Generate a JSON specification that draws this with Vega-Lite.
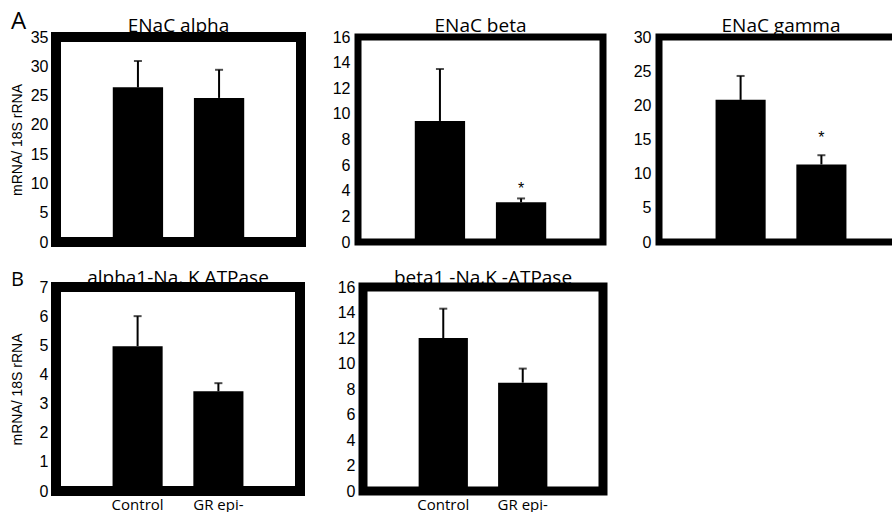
{
  "$schema": "https://vega.github.io/schema/vega-lite/v6.json",
  "background": "white",
  "padding": {"left": 5, "top": 10, "right": 0, "bottom": 0},
  "datasets": {
    "d": [
      {"panel": "A1", "group": "Control", "mean": 26.4, "hi": 30.9, "sig": ""},
      {"panel": "A1", "group": "GR epi-", "mean": 24.6, "hi": 29.4, "sig": ""},
      {"panel": "A2", "group": "Control", "mean": 9.45, "hi": 13.5, "sig": ""},
      {"panel": "A2", "group": "GR epi-", "mean": 3.1, "hi": 3.4, "sig": "*"},
      {"panel": "A3", "group": "Control", "mean": 20.8, "hi": 24.3, "sig": ""},
      {"panel": "A3", "group": "GR epi-", "mean": 11.35, "hi": 12.7, "sig": "*"},
      {"panel": "B1", "group": "Control", "mean": 4.97, "hi": 6.0, "sig": ""},
      {"panel": "B1", "group": "GR epi-", "mean": 3.42, "hi": 3.7, "sig": ""},
      {"panel": "B2", "group": "Control", "mean": 12.0, "hi": 14.3, "sig": ""},
      {"panel": "B2", "group": "GR epi-", "mean": 8.5, "hi": 9.6, "sig": ""}
    ]
  },
  "data": {"name": "d"},
  "vconcat": [
    {
      "title": {"text": "A", "anchor": "start", "fontSize": 24, "offset": -22, "dx": 6, "frame": "bounds"},
      "spacing": 22,
      "hconcat": [
        {
          "width": 245, "height": 205,
          "view": {"stroke": "black", "strokeWidth": 10},
          "title": {"text": "ENaC alpha", "offset": -7},
          "transform": [{"filter": "datum.panel === 'A1'"}],
          "encoding": {"x": {"field": "group", "type": "nominal", "sort": ["Control", "GR epi-"], "scale": {"paddingInner": 0.38, "paddingOuter": 0.7}, "axis": null}},
          "layer": [
            {"mark": {"type": "bar", "color": "black"}, "encoding": {"y": {"field": "mean", "type": "quantitative", "scale": {"domain": [0, 35], "nice": false}, "axis": {"values": [0, 5, 10, 15, 20, 25, 30, 35], "labelOverlap": false, "title": "mRNA/ 18S rRNA"}}}},
            {"mark": {"type": "rule", "color": "black", "strokeWidth": 2}, "encoding": {"y": {"field": "mean", "type": "quantitative", "axis": {"values": [0, 5, 10, 15, 20, 25, 30, 35], "labelOverlap": false, "title": "mRNA/ 18S rRNA"}}, "y2": {"field": "hi"}}},
            {"mark": {"type": "tick", "color": "black", "thickness": 2, "size": 8}, "encoding": {"y": {"field": "hi", "type": "quantitative", "axis": {"values": [0, 5, 10, 15, 20, 25, 30, 35], "labelOverlap": false, "title": "mRNA/ 18S rRNA"}}}}
          ]
        },
        {
          "width": 245, "height": 205,
          "view": {"stroke": "black", "strokeWidth": 7},
          "title": {"text": "ENaC beta", "offset": -7},
          "transform": [{"filter": "datum.panel === 'A2'"}],
          "encoding": {"x": {"field": "group", "type": "nominal", "sort": ["Control", "GR epi-"], "scale": {"paddingInner": 0.38, "paddingOuter": 0.7}, "axis": null}},
          "layer": [
            {"mark": {"type": "bar", "color": "black"}, "encoding": {"y": {"field": "mean", "type": "quantitative", "scale": {"domain": [0, 16], "nice": false}, "axis": {"values": [0, 2, 4, 6, 8, 10, 12, 14, 16], "labelOverlap": false, "title": null}}}},
            {"mark": {"type": "rule", "color": "black", "strokeWidth": 2}, "encoding": {"y": {"field": "mean", "type": "quantitative", "axis": {"values": [0, 2, 4, 6, 8, 10, 12, 14, 16], "labelOverlap": false, "title": null}}, "y2": {"field": "hi"}}},
            {"mark": {"type": "tick", "color": "black", "thickness": 2, "size": 8}, "encoding": {"y": {"field": "hi", "type": "quantitative", "axis": {"values": [0, 2, 4, 6, 8, 10, 12, 14, 16], "labelOverlap": false, "title": null}}}},
            {"mark": {"type": "text", "color": "black", "fontSize": 16, "baseline": "bottom", "dy": -1, "font": "Liberation Sans"}, "encoding": {"y": {"field": "hi", "type": "quantitative", "axis": {"values": [0, 2, 4, 6, 8, 10, 12, 14, 16], "labelOverlap": false, "title": null}}, "text": {"field": "sig"}}}
          ]
        },
        {
          "width": 244, "height": 205,
          "view": {"stroke": "black", "strokeWidth": 7},
          "title": {"text": "ENaC gamma", "offset": -7},
          "transform": [{"filter": "datum.panel === 'A3'"}],
          "encoding": {"x": {"field": "group", "type": "nominal", "sort": ["Control", "GR epi-"], "scale": {"paddingInner": 0.38, "paddingOuter": 0.7}, "axis": null}},
          "layer": [
            {"mark": {"type": "bar", "color": "black"}, "encoding": {"y": {"field": "mean", "type": "quantitative", "scale": {"domain": [0, 30], "nice": false}, "axis": {"values": [0, 5, 10, 15, 20, 25, 30], "labelOverlap": false, "title": null}}}},
            {"mark": {"type": "rule", "color": "black", "strokeWidth": 2}, "encoding": {"y": {"field": "mean", "type": "quantitative", "axis": {"values": [0, 5, 10, 15, 20, 25, 30], "labelOverlap": false, "title": null}}, "y2": {"field": "hi"}}},
            {"mark": {"type": "tick", "color": "black", "thickness": 2, "size": 8}, "encoding": {"y": {"field": "hi", "type": "quantitative", "axis": {"values": [0, 5, 10, 15, 20, 25, 30], "labelOverlap": false, "title": null}}}},
            {"mark": {"type": "text", "color": "black", "fontSize": 16, "baseline": "bottom", "dy": -9, "font": "Liberation Sans"}, "encoding": {"y": {"field": "hi", "type": "quantitative", "axis": {"values": [0, 5, 10, 15, 20, 25, 30], "labelOverlap": false, "title": null}}, "text": {"field": "sig"}}}
          ]
        }
      ]
    },
    {
      "title": {"text": "B", "anchor": "start", "fontSize": 20, "offset": -26, "dx": 6, "frame": "bounds"},
      "spacing": 27,
      "hconcat": [
        {
          "width": 244, "height": 204,
          "view": {"stroke": "black", "strokeWidth": 10},
          "title": {"text": "alpha1-Na, K ATPase", "offset": -9},
          "transform": [{"filter": "datum.panel === 'B1'"}],
          "encoding": {"x": {"field": "group", "type": "nominal", "sort": ["Control", "GR epi-"], "scale": {"paddingInner": 0.38, "paddingOuter": 0.7}, "axis": {"title": null}}},
          "layer": [
            {"mark": {"type": "bar", "color": "black"}, "encoding": {"y": {"field": "mean", "type": "quantitative", "scale": {"domain": [0, 7], "nice": false}, "axis": {"values": [0, 1, 2, 3, 4, 5, 6, 7], "labelOverlap": false, "title": "mRNA/ 18S rRNA"}}}},
            {"mark": {"type": "rule", "color": "black", "strokeWidth": 2}, "encoding": {"y": {"field": "mean", "type": "quantitative", "axis": {"values": [0, 1, 2, 3, 4, 5, 6, 7], "labelOverlap": false, "title": "mRNA/ 18S rRNA"}}, "y2": {"field": "hi"}}},
            {"mark": {"type": "tick", "color": "black", "thickness": 2, "size": 8}, "encoding": {"y": {"field": "hi", "type": "quantitative", "axis": {"values": [0, 1, 2, 3, 4, 5, 6, 7], "labelOverlap": false, "title": "mRNA/ 18S rRNA"}}}}
          ]
        },
        {
          "width": 240, "height": 204,
          "view": {"stroke": "black", "strokeWidth": 9},
          "title": {"text": "beta1 -Na,K  -ATPase", "offset": -9},
          "transform": [{"filter": "datum.panel === 'B2'"}],
          "encoding": {"x": {"field": "group", "type": "nominal", "sort": ["Control", "GR epi-"], "scale": {"paddingInner": 0.38, "paddingOuter": 0.7}, "axis": {"title": null}}},
          "layer": [
            {"mark": {"type": "bar", "color": "black"}, "encoding": {"y": {"field": "mean", "type": "quantitative", "scale": {"domain": [0, 16], "nice": false}, "axis": {"values": [0, 2, 4, 6, 8, 10, 12, 14, 16], "labelOverlap": false, "title": null}}}},
            {"mark": {"type": "rule", "color": "black", "strokeWidth": 2}, "encoding": {"y": {"field": "mean", "type": "quantitative", "axis": {"values": [0, 2, 4, 6, 8, 10, 12, 14, 16], "labelOverlap": false, "title": null}}, "y2": {"field": "hi"}}},
            {"mark": {"type": "tick", "color": "black", "thickness": 2, "size": 8}, "encoding": {"y": {"field": "hi", "type": "quantitative", "axis": {"values": [0, 2, 4, 6, 8, 10, 12, 14, 16], "labelOverlap": false, "title": null}}}}
          ]
        }
      ]
    }
  ],
  "spacing": 9,
  "config": {
    "axis": {"labelFont": "Liberation Sans", "labelFontSize": 16, "labelColor": "black", "labelOverlap": false, "titleFont": "Liberation Sans", "titleFontSize": 14, "titleFontWeight": "normal", "titleColor": "black", "ticks": false, "domain": false, "grid": false, "labelPadding": 8, "titlePadding": 7},
    "axisY": {"minExtent": 25, "maxExtent": 25},
    "axisX": {"labelFont": "Open Sans", "labelFontSize": 15, "labelAngle": 0, "labelPadding": 6},
    "title": {"font": "Open Sans", "fontSize": 19, "fontWeight": "normal", "color": "black", "baseline": "alphabetic"}
  }
}
